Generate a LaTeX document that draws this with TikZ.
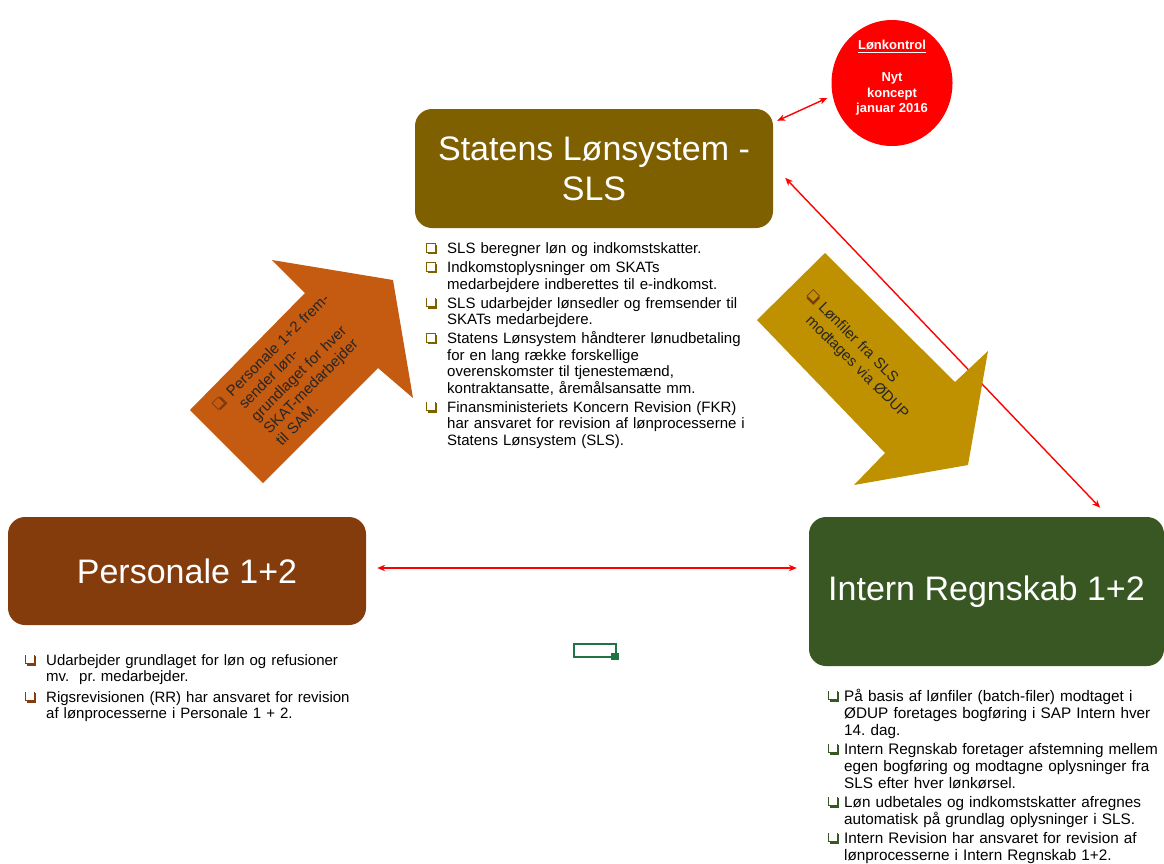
\documentclass[tikz,border=0pt]{standalone}
\usepackage{fontspec}
\setmainfont{Liberation Sans}
\usetikzlibrary{arrows.meta,shapes.geometric}
\definecolor{slsc}{HTML}{7F6000}
\definecolor{persc}{HTML}{843C0C}
\definecolor{intc}{HTML}{385723}
\definecolor{orangec}{HTML}{C55A11}
\definecolor{goldc}{HTML}{BF9000}
\definecolor{bulbrown}{HTML}{7A3A12}
\definecolor{selgreen}{HTML}{217346}
\newcommand\bul[2]{%
 \makebox[0pt][l]{\hspace{1.6pt}\textcolor{#1}{\rule[-0.6pt]{9.6pt}{9.6pt}}}%
 \makebox[0pt][l]{\textcolor{#1}{\rule[1pt]{9.6pt}{9.6pt}}}%
 \makebox[0pt][l]{\hspace{0.85pt}\textcolor{#2}{\rule[1.85pt]{7.9pt}{7.9pt}}}}
\newcommand\itm[3]{\par\hangindent=#1\hangafter=1\noindent\makebox[#1][l]{#2}\ignorespaces#3\par}
\begin{document}
\begin{tikzpicture}[x=1pt,y=-1pt,
  box/.style={rounded corners=17pt, inner sep=0pt, text=white, align=center,
              font=\fontsize{34}{40}\selectfont},
  lst/.style={inner sep=0pt, anchor=north west, text=black},
  dbl/.style={draw=red, line width=1.4pt, <->, >={Stealth[length=8pt,width=6.5pt]}}]
\useasboundingbox (0,0) rectangle (1164,863);

% boxes
\node[box, fill=slsc, minimum width=358pt, minimum height=119pt] (sls) at (594,168.5) {Statens Lønsystem -\\SLS};
\node[box, fill=persc, minimum width=358pt, minimum height=108pt] (pers) at (187,571) {Personale 1+2};
\node[box, fill=intc, minimum width=355pt, minimum height=149pt] (int) at (986.5,591.5) {Intern Regnskab 1+2};

% red circle
\node[ellipse, fill=red, inner sep=0pt, minimum width=121pt, minimum height=126pt] (lk) at (892,83) {};
\node[inner sep=0pt, text=white, align=center, font=\bfseries\fontsize{13}{15.7}\selectfont] (lkt) at (892,78)
  {\underline{Lønkontrol}\\[15.7pt]Nyt\\koncept\\januar 2016};

% connectors
\draw[dbl] ([shift={(4,12)}]sls.north east) -- ([shift={(-4,15)}]lk.west);
\draw[dbl] ([shift={(12,69)}]sls.north east) -- ([shift={(-64,-9)}]int.north east);
\coordinate (h1) at ([shift={(11,-3)}]pers.east);
\draw[dbl, shorten >=12pt] (h1) -- (h1 -| int.west);

% block arrows
\fill[orangec] (190,410) -- (305,293) -- (272,260) -- (393,280) -- (413,398) -- (378,368) -- (263,483) -- cycle;
\fill[goldc] (825,253) -- (955,382) -- (988,351) -- (968,465) -- (854,485) -- (885,453) -- (757,320) -- cycle;

\node[inner sep=0pt, rotate=45, text width=165pt, text=black!85,
      font=\fontsize{15}{17.5}\selectfont] (otxt) at (296,371)
  {\raggedright\frenchspacing\itm{19pt}{\bul{bulbrown}{orangec}}{Personale 1+2 frem-\newline sender løn-\newline grundlaget for hver\newline SKAT-medarbejder\newline til SAM.}};
\node[inner sep=0pt, rotate=-45, text width=165pt, text=black!85,
      font=\fontsize{15}{18}\selectfont] (gtxt) at (863,356)
  {\raggedright\frenchspacing\itm{17pt}{\bul{bulbrown}{goldc}}{Lønfiler fra SLS\newline modtages via ØDUP}};

% lists
\node[lst, text width=360pt, font=\fontsize{15}{16.5}\selectfont] (slslist) at (426,237) {%
\raggedright\frenchspacing
\itm{21pt}{\bul{slsc}{white}}{SLS beregner løn og indkomstskatter.}\vspace{2.5pt}
\itm{21pt}{\bul{slsc}{white}}{Indkomstoplysninger om SKATs\newline medarbejdere indberettes til e-indkomst.}\vspace{2.5pt}
\itm{21pt}{\bul{slsc}{white}}{SLS udarbejder lønsedler og fremsender til\newline SKATs medarbejdere.}\vspace{2.5pt}
\itm{21pt}{\bul{slsc}{white}}{Statens Lønsystem håndterer lønudbetaling\newline for en lang række forskellige\newline overenskomster til tjenestemænd,\newline kontraktansatte, åremålsansatte mm.}\vspace{2.5pt}
\itm{21pt}{\bul{slsc}{white}}{Finansministeriets Koncern Revision (FKR)\newline har ansvaret for revision af lønprocesserne i\newline Statens Lønsystem (SLS).}};

\node[lst, text width=360pt, font=\fontsize{15}{16}\selectfont] (perslist) at (25,649) {%
\raggedright\frenchspacing
\itm{21pt}{\bul{persc}{white}}{Udarbejder grundlaget for løn og refusioner\newline mv.\ \ pr. medarbejder.}\vspace{5pt}
\itm{21pt}{\bul{persc}{white}}{Rigsrevisionen (RR) har ansvaret for revision\newline af lønprocesserne i Personale 1 + 2.}};

\node[lst, text width=340pt, font=\fontsize{15.3}{17}\selectfont] (intlist) at (828,684) {%
\raggedright\frenchspacing
\itm{16pt}{\bul{intc}{white}}{På basis af lønfiler (batch-filer) modtaget i\newline ØDUP foretages bogføring i SAP Intern hver\newline 14. dag.}\vspace{2pt}
\itm{16pt}{\bul{intc}{white}}{Intern Regnskab foretager afstemning mellem\newline egen bogføring og modtagne oplysninger fra\newline SLS efter hver lønkørsel.}\vspace{2pt}
\itm{16pt}{\bul{intc}{white}}{Løn udbetales og indkomstskatter afregnes\newline automatisk på grundlag oplysninger i SLS.}\vspace{2pt}
\itm{16pt}{\bul{intc}{white}}{Intern Revision har ansvaret for revision af\newline lønprocesserne i Intern Regnskab 1+2.}};

% small selection marker
\draw[selgreen, line width=2pt] (573.5,643.5) rectangle (615.5,656.5);
\fill[selgreen] (611,653) rectangle (619,660);
\end{tikzpicture}
\end{document}
